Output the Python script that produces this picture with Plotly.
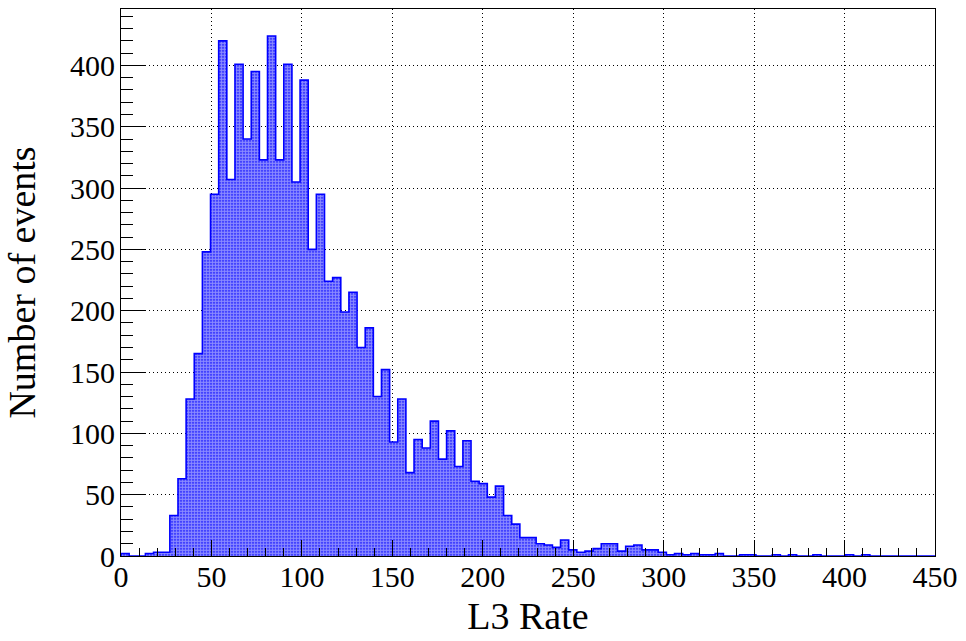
import plotly.graph_objects as go

# Histogram definition: 100 bins from 0 to 450
x_min = 0.0
x_max = 450.0
n_bins = 100

counts = [
    2, 0, 0, 2, 3, 3, 33, 63, 128, 165,
    248, 295, 420, 307, 401, 340, 395, 323, 424, 323,
    401, 305, 388, 250, 295, 224, 227, 199, 215, 170,
    186, 130, 152, 93, 128, 68, 95, 88, 110, 79,
    102, 73, 94, 61, 59, 48, 57, 33, 26, 15,
    15, 10, 9, 7, 13, 5, 3, 4, 6, 10,
    10, 4, 8, 9, 5, 5, 3, 1, 2, 1,
    2, 1, 1, 2, 0, 0, 1, 1, 0, 0,
    1, 0, 1, 0, 0, 1, 0, 0, 0, 1,
    0, 1, 0, 0, 0, 0, 0, 0, 0, 0,
]

x_title = "L3 Rate"
y_title = "Number of events"
x_ticks = [0, 50, 100, 150, 200, 250, 300, 350, 400, 450]
y_ticks = [0, 50, 100, 150, 200, 250, 300, 350, 400]

width = (x_max - x_min) / n_bins
edges = [x_min + i * width for i in range(n_bins + 1)]
centers = [x_min + (i + 0.5) * width for i in range(n_bins)]

# step outline
step_x = [edges[0]] + edges + [edges[-1]]
step_y = [0] + counts + [counts[-1]] + [0]

FONT = "Liberation Serif, Times New Roman, serif"
BLUE = "#0000ff"

fig = go.Figure()
fig.add_trace(go.Bar(
    x=centers, y=counts, width=width,
    marker=dict(
        color=BLUE,
        line=dict(width=0),
        pattern=dict(shape=".", fgcolor="white", bgcolor="#1414ff", size=3, solidity=0.72),
    ),
    showlegend=False, hoverinfo="skip",
))
fig.add_trace(go.Scatter(
    x=step_x, y=step_y, mode="lines",
    line=dict(color=BLUE, width=1.6, shape="hv"),
    showlegend=False, hoverinfo="skip",
))

fig.update_layout(
    width=966, height=641,
    margin=dict(l=121, r=28, t=8, b=85),
    paper_bgcolor="white", plot_bgcolor="white",
    bargap=0,
    font=dict(family=FONT, color="black"),
)

fig.update_xaxes(
    range=[x_min, x_max],
    tickvals=x_ticks, ticktext=[str(v) for v in x_ticks],
    ticks="inside", ticklen=16, tickwidth=1, tickcolor="black",
    minor=dict(ticks="inside", ticklen=8, dtick=10, tick0=0, tickcolor="black", showgrid=False),
    showgrid=True, gridcolor="black", gridwidth=1, griddash="1px,3px",
    showline=True, linecolor="black", linewidth=1, mirror=True,
    zeroline=False,
    tickfont=dict(family=FONT, size=30, color="black"),
    ticklabelstandoff=-6,
    title=dict(text=x_title, font=dict(family=FONT, size=38, color="black"), standoff=10),
)
fig.update_yaxes(
    range=[0, 446],
    tickvals=y_ticks, ticktext=[str(v) for v in y_ticks],
    ticks="inside", ticklen=24, tickwidth=1, tickcolor="black",
    minor=dict(ticks="inside", ticklen=12, dtick=10, tick0=0, tickcolor="black", showgrid=False),
    showgrid=True, gridcolor="black", gridwidth=1, griddash="1px,3px",
    showline=True, linecolor="black", linewidth=1, mirror=True,
    zeroline=False,
    tickfont=dict(family=FONT, size=30, color="black"),
    ticklabelstandoff=-1,
    title=dict(text=y_title, font=dict(family=FONT, size=38, color="black"), standoff=22),
)

fig.write_html("out.html", config={"displayModeBar": False},
               post_script="document.body.style.margin='0';")
